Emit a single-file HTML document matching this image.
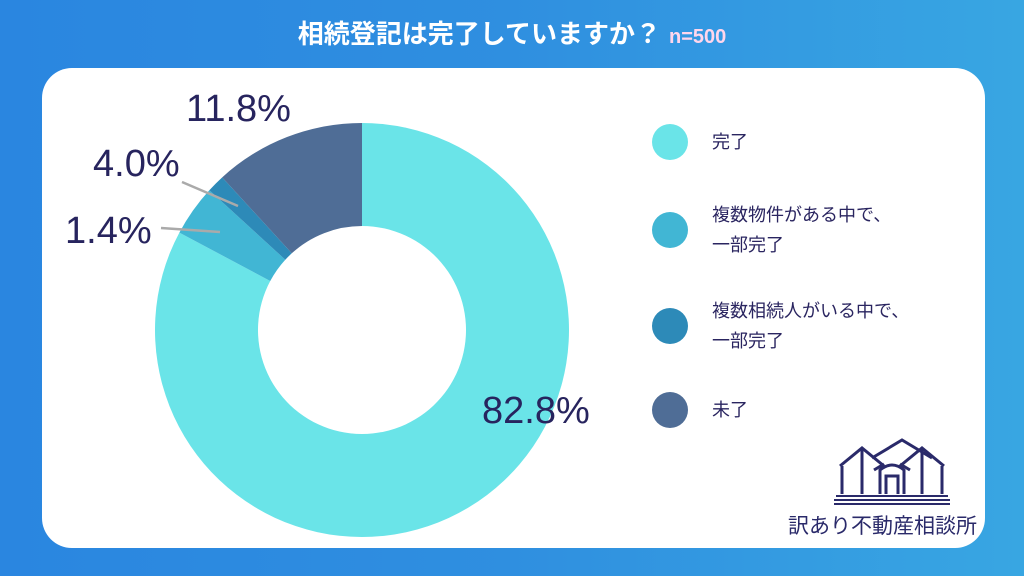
<!DOCTYPE html>
<html><head><meta charset="utf-8"><style>
body{margin:0;width:1024px;height:576px;overflow:hidden;background:linear-gradient(90deg,#2a86e0,#2f8fe0 50%,#38a6e2);font-family:"Liberation Sans","Noto Sans CJK JP",sans-serif;position:relative}
.card{position:absolute;left:42px;top:68px;width:943px;height:480px;background:#fff;border-radius:30px}
.title{position:absolute;left:0;width:1024px;top:14px;text-align:center;color:#fff;font-weight:bold;font-size:26px;}
.title span{color:#ffd6ec;font-size:20px;margin-left:8px}
.lg{position:absolute;left:652px;display:flex;align-items:center;color:#2a2560;font-size:18px;line-height:30px}
.lg i{display:inline-block;width:36px;height:36px;border-radius:50%;margin-right:24px;flex:none}
.lab{position:absolute;color:#27245e;font-size:38px}
</style></head><body>
<div class="title">相続登記は完了していますか？<span>n=500</span></div>
<div class="card"></div>
<svg width="1024" height="576" style="position:absolute;left:0;top:0" id="s"></svg>
<div class="lab" style="left:186px;top:88px">11.8%</div>
<div class="lab" style="left:93px;top:143px">4.0%</div>
<div class="lab" style="left:65px;top:210px">1.4%</div>
<div class="lab" style="left:482px;top:390px">82.8%</div>
<div class="lg" style="top:124px"><i style="background:#6ae4e8"></i>完了</div>
<div class="lg" style="top:200px"><i style="background:#41b6d4"></i>複数物件がある中で、<br>一部完了</div>
<div class="lg" style="top:296px"><i style="background:#2d8ab8"></i>複数相続人がいる中で、<br>一部完了</div>
<div class="lg" style="top:392px"><i style="background:#4f6d96"></i>未了</div>
<svg width="120" height="70" style="position:absolute;left:832px;top:436px" viewBox="0 0 120 70" fill="none" stroke="#2a2a6a" stroke-width="3">
<path d="M8 30 L30 12 L52 30 M30 14 V58 M10 30 V58"/>
<path d="M40 22 L70 4 L100 22"/>
<path d="M68 30 L90 12 L112 30 M90 14 V58 M110 30 V58"/>
<path d="M48 58 V34 Q60 24 72 34 V58 M54 58 V40 H66 V58 M42 34 L52 28 M78 34 L68 28"/>
<path d="M4 60 H116 M2 64 H118 M2 68 H118" stroke-width="2"/>
</svg>
<div style="position:absolute;left:788px;top:510px;color:#2a2a6a;font-size:21px">訳あり不動産相談所</div>
<script>
var cx=362,cy=330,R=207,r=104,s=document.getElementById('s'),a=0;
function p(t,rr){t=t*Math.PI/180;return[cx+rr*Math.sin(t),cy-rr*Math.cos(t)];}
[[82.8,'#6ae4e8'],[4.0,'#41b6d4'],[1.4,'#2d8ab8'],[11.8,'#4f6d96']].forEach(function(d){
var b=a+d[0]*3.6,l=d[0]>50?1:0,A=p(a,R),B=p(b,R),C=p(b,r),D=p(a,r);
s.innerHTML+='<path fill="'+d[1]+'" d="M'+A+' A'+R+' '+R+' 0 '+l+' 1 '+B+' L'+C+' A'+r+' '+r+' 0 '+l+' 0 '+D+'Z"/>';a=b;});
s.innerHTML+='<path d="M182 182 L238 206 M161 228 L220 232" stroke="#aaa" stroke-width="2.5"/>';
</script>
</body></html>
